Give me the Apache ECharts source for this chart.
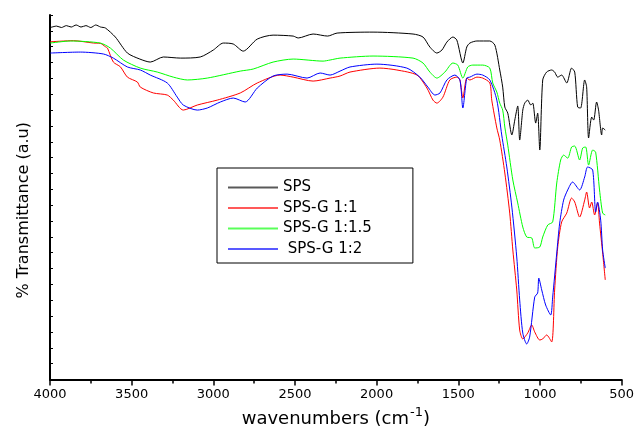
<!DOCTYPE html>
<html>
<head>
<meta charset="utf-8">
<script src="https://cdn.jsdelivr.net/npm/echarts@6/dist/echarts.min.js"></script>
<style>
  html, body { margin: 0; padding: 0; background: #fff; }
  #chart { width: 637px; height: 434px; }
</style>
</head>
<body>
<div id="chart"></div>
<script>
// 光谱数据 [波数 cm-1, 透过率 a.u.]
var sps = [
    [3998, 22.21], [3960, 22.30], [3930, 22.21], [3900, 22.33], [3870, 22.24], [3840, 22.37],
    [3810, 22.24], [3780, 22.33], [3750, 22.21], [3720, 22.37], [3690, 22.24], [3661, 22.18],
    [3600, 21.61], [3526, 20.60], [3450, 20.22], [3386, 20.03], [3306, 20.35], [3200, 20.28],
    [3080, 20.35], [3000, 20.79], [2939, 21.23], [2878, 21.17], [2817, 20.72], [2731, 21.48],
    [2634, 21.73], [2511, 21.67], [2480, 21.55], [2389, 21.80], [2300, 21.67], [2242, 21.86],
    [2022, 21.92], [1777, 21.80], [1716, 21.61], [1674, 20.98], [1631, 20.60], [1600, 20.79],
    [1570, 21.29], [1533, 21.61], [1509, 21.42], [1472, 19.97], [1448, 20.98], [1429, 21.23],
    [1386, 21.36], [1307, 21.36], [1276, 21.10], [1246, 19.53], [1228, 18.45], [1215, 17.19],
    [1197, 16.81], [1172, 15.43], [1154, 16.37], [1136, 17.26], [1124, 15.11], [1105, 17.00],
    [1093, 17.44], [1075, 17.63], [1056, 17.32], [1044, 17.44], [1026, 16.18], [1014, 16.81],
    [1001, 14.48], [983, 18.90], [959, 19.40], [928, 19.53], [910, 19.40], [891, 19.08],
    [867, 19.21], [836, 18.71], [806, 19.65], [787, 19.40], [769, 17.19], [751, 17.13],
    [726, 18.90], [714, 18.45], [702, 15.24], [683, 16.56], [671, 16.37], [653, 17.51],
    [641, 17.00], [622, 15.43], [616, 15.87], [600, 15.74]
];

var spsG11 = [
    [3998, 21.31], [3856, 21.38], [3734, 21.23], [3692, 21.21], [3661, 21.00], [3648, 20.91],
    [3612, 20.03], [3569, 19.73], [3526, 19.08], [3465, 18.77], [3447, 18.45], [3367, 18.08],
    [3282, 17.95], [3245, 17.63], [3184, 17.00], [3098, 17.32], [2976, 17.63], [2835, 18.08],
    [2731, 18.71], [2591, 19.21], [2511, 19.08], [2389, 18.83], [2285, 19.02], [2224, 19.15],
    [2163, 19.40], [1980, 19.65], [1876, 19.53], [1753, 19.21], [1692, 18.39], [1655, 17.63],
    [1631, 17.44], [1594, 17.82], [1552, 18.90], [1509, 19.08], [1490, 18.90], [1472, 17.76],
    [1448, 19.02], [1429, 18.90], [1386, 19.08], [1350, 19.02], [1307, 18.71], [1295, 17.63],
    [1264, 15.87], [1246, 15.11], [1215, 13.03], [1185, 10.50], [1166, 8.17], [1142, 5.65],
    [1124, 3.12], [1105, 2.56], [1075, 2.93], [1050, 3.44], [1032, 3.00], [1001, 2.49],
    [983, 2.56], [959, 2.81], [928, 2.37], [910, 5.65], [891, 8.36], [867, 9.94],
    [836, 10.50], [806, 11.45], [787, 11.20], [757, 10.25], [726, 11.32], [714, 11.83],
    [696, 10.82], [683, 11.20], [665, 10.38], [647, 11.14], [635, 9.87], [616, 7.98], [600, 6.28]
];

var spsG115 = [
    [3998, 21.23], [3875, 21.36], [3692, 21.23], [3630, 20.91], [3551, 20.16], [3447, 19.65],
    [3343, 19.40], [3245, 19.08], [3159, 18.90], [3037, 19.02], [2835, 19.46], [2756, 19.59],
    [2634, 20.03], [2511, 20.22], [2328, 20.09], [2285, 20.16], [2224, 20.28], [2022, 20.41],
    [1777, 20.28], [1716, 19.97], [1674, 19.40], [1631, 19.02], [1582, 19.40], [1533, 19.97],
    [1503, 19.84], [1472, 19.02], [1442, 19.72], [1411, 19.84], [1350, 19.84], [1307, 19.65],
    [1289, 18.71], [1264, 18.14], [1246, 17.44], [1228, 17.00], [1215, 15.93], [1197, 14.79],
    [1166, 12.59], [1136, 11.14], [1105, 9.62], [1081, 8.99], [1050, 8.93], [1032, 8.30],
    [1001, 8.36], [983, 8.99], [952, 9.75], [922, 9.94], [897, 12.40], [873, 13.85],
    [855, 14.16], [830, 13.97], [806, 14.67], [787, 14.73], [757, 13.85], [738, 14.61],
    [720, 14.67], [702, 13.53], [677, 14.48], [659, 14.35], [635, 11.96], [616, 10.50], [600, 10.38]
];

var spsG12 = [
    [3998, 20.60], [3814, 20.66], [3673, 20.54], [3612, 20.28], [3526, 19.72], [3447, 19.53],
    [3386, 19.21], [3282, 18.71], [3221, 17.82], [3184, 17.32], [3098, 17.00], [3037, 17.13],
    [2957, 17.51], [2878, 17.76], [2805, 17.51], [2731, 18.39], [2634, 19.15], [2548, 19.27],
    [2426, 19.02], [2346, 19.34], [2285, 19.21], [2224, 19.46], [2163, 19.72], [1998, 19.90],
    [1815, 19.65], [1735, 19.08], [1686, 18.45], [1643, 17.95], [1612, 18.08], [1570, 18.90],
    [1521, 19.21], [1490, 18.90], [1472, 17.13], [1448, 19.02], [1429, 19.08], [1386, 19.27],
    [1350, 19.21], [1307, 18.90], [1264, 17.63], [1234, 15.43], [1203, 13.41], [1172, 10.88],
    [1142, 7.73], [1124, 5.02], [1105, 2.93], [1081, 2.24], [1063, 2.68], [1032, 5.20],
    [1014, 5.46], [1007, 6.40], [989, 5.65], [965, 4.70], [934, 4.07], [922, 5.20],
    [897, 7.98], [879, 9.87], [855, 11.32], [830, 11.96], [800, 12.46], [757, 11.96],
    [726, 12.78], [708, 13.41], [677, 13.22], [659, 10.57], [647, 11.20], [628, 10.06],
    [616, 8.17], [600, 7.03]
];

var seriesNames = ['SPS', 'SPS-G 1:1', 'SPS-G 1:1.5', 'SPS-G 1:2'];
var seriesColors = ['#000000', '#ff0000', '#00ff00', '#0000ff'];
var seriesData = [sps, spsG11, spsG115, spsG12];

var myChart = echarts.init(document.getElementById('chart'));

var series = [];
var legendData = [];
for (var i = 0; i < seriesData.length; i++) {
    series.push({
        name: seriesNames[i],
        type: 'line',
        data: seriesData[i],
        showSymbol: false,
        symbol: 'none',
        smooth: 0.25,
        color: seriesColors[i],
        lineStyle: { color: seriesColors[i], width: 1 }
    });
    legendData.push({
        name: seriesNames[i],
        itemStyle: { color: seriesColors[i], borderWidth: 0, opacity: 0.65 }
    });
}

var option = {
    animation: false,
    backgroundColor: '#fff',
    textStyle: { fontFamily: 'DejaVu Sans' },
    grid: { left: 50, right: 15, top: 15, bottom: 54.5 },
    legend: {
        orient: 'vertical',
        left: 217,
        top: 168,
        padding: [9.5, 41, 4, 11],
        itemGap: 0.5,
        itemWidth: 50,
        itemHeight: 2,
        icon: 'rect',
        borderColor: '#000',
        borderWidth: 1,
        borderRadius: 0,
        textStyle: { fontSize: 15, color: '#000', lineHeight: 20, fontFamily: 'DejaVu Sans' },
        // 最后一项在原图中有缩进
        formatter: function (name) {
            return name === 'SPS-G 1:2' ? ' ' + name : name;
        },
        data: legendData
    },
    xAxis: {
        type: 'value',
        inverse: true,
        min: 500,
        max: 4000,
        interval: 500,
        name: 'wavenumbers (cm{sup|-1})',
        nameLocation: 'middle',
        nameGap: 26,
        nameTextStyle: {
            fontSize: 18,
            color: '#000',
            rich: { sup: { fontSize: 13, padding: [0, 0, 12, 1] } }
        },
        axisLine: { lineStyle: { color: '#000', width: 2 } },
        axisTick: { inside: false, length: 6, lineStyle: { color: '#000', width: 1.5 } },
        minorTick: { show: true, splitNumber: 2, length: 4, lineStyle: { color: '#000', width: 1.5 } },
        axisLabel: {
            fontSize: 13,
            color: '#000',
            margin: 9,
            formatter: function (v) { return String(v); }
        },
        splitLine: { show: false }
    },
    yAxis: {
        type: 'value',
        min: 0,
        max: 23,
        interval: 1,
        name: '% Transmittance (a.u)',
        nameLocation: 'middle',
        nameGap: 18,
        nameTextStyle: { fontSize: 16, color: '#000', padding: [0, 26, 0, 0] },
        axisLine: { show: true, lineStyle: { color: '#000', width: 2 } },
        axisTick: { inside: true, length: 3, lineStyle: { color: '#000', width: 1 } },
        axisLabel: { show: false },
        splitLine: { show: false }
    },
    series: series
};

myChart.setOption(option);
window.addEventListener('resize', function () {
    myChart.resize();
});
</script>
</body>
</html>
